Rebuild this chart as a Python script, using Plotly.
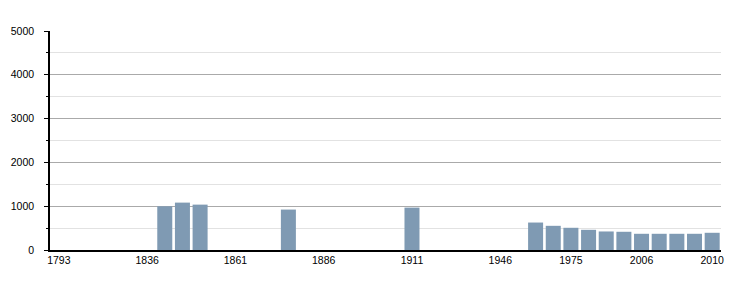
import plotly.graph_objects as go

years = ["1793", "1800", "1806", "1821", "1831", "1836", "1841", "1846", "1851", "1856",
         "1861", "1866", "1872", "1876", "1881", "1886", "1891", "1896", "1901", "1906",
         "1911", "1921", "1926", "1931", "1936", "1946", "1954", "1962", "1968", "1975",
         "1982", "1990", "1999", "2006", "2007", "2008", "2009", "2010"]
population = [None, None, None, None, None, None, 998, 1082, 1036, None,
              None, None, None, 923, None, None, None, None, None, None,
              968, None, None, None, None, None, None, 627, 552, 507,
              461, 423, 416, 370, 370, 370, 370, 393]
tick_years = ["1793", "1836", "1861", "1886", "1911", "1946", "1975", "2006", "2010"]

fig = go.Figure(go.Bar(x=years, y=population, marker=dict(color="#7f9ab3", line=dict(width=0)),
                       hoverinfo="x+y"))

fig.update_layout(
    width=750, height=300,
    margin=dict(l=50, r=29, t=31, b=50),
    plot_bgcolor="white", paper_bgcolor="white",
    font=dict(family="Liberation Sans, Arial, sans-serif", size=10.5, color="black"),
    bargap=0.15,
    showlegend=False,
)
fig.update_xaxes(
    type="category", categoryorder="array", categoryarray=years,
    tickmode="array", tickvals=tick_years, ticktext=tick_years,
    showline=True, linecolor="black", linewidth=1.5,
    ticks="", showgrid=False, zeroline=False,
    range=[-0.5, len(years) - 0.5], tickangle=0,
)
fig.update_yaxes(
    range=[0, 5000], dtick=1000, tick0=0,
    showline=True, linecolor="black", linewidth=1.5,
    ticks="outside", ticklen=4, tickcolor="black",
    showgrid=True, gridcolor="#aaaaaa", gridwidth=1,
    zeroline=False, ticklabelstandoff=8,
    minor=dict(dtick=500, showgrid=True, gridcolor="#e2e2e2", ticks="outside",
               ticklen=2, tickcolor="black"),
)

fig.write_html("out.html")
